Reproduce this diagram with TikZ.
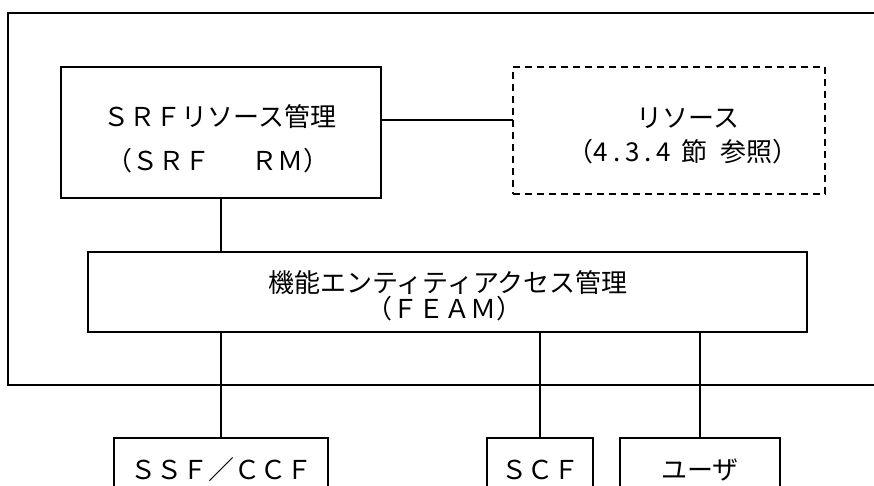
\documentclass[tikz,border=0pt]{standalone}
\usepackage{fontspec}
\setmainfont{Noto Sans CJK JP}
\newcommand{\hwc}[1]{\makebox[0.6em]{#1}}
\begin{document}
\begin{tikzpicture}[x=1pt,y=-1pt,
  box/.style={draw, line width=1.2pt, inner sep=0pt, outer sep=0pt, anchor=north west},
  dashbox/.style={box, dash pattern=on 7pt off 5pt},
  txt/.style={font=\fontsize{26}{30}\selectfont, inner sep=0pt},
  conn/.style={line width=1.2pt}]
\useasboundingbox (0,0) rectangle (874,486);
\clip (0,0) rectangle (874,486);
% outer system boundary
\node[box, line width=1.3pt, minimum width=900, minimum height=372] (sys) at (8,13) {};
% boxes
\node[box, minimum width=320, minimum height=131] (rm) at (61,67) {};
\node[dashbox, minimum width=312, minimum height=127] (res) at (513,67) {};
\node[box, minimum width=719, minimum height=80] (feam) at (88,252) {};
\node[box, minimum width=214, minimum height=80] (ssf) at (114,438) {};
\node[box, minimum width=106, minimum height=80] (scf) at (487,438) {};
\node[box, minimum width=160, minimum height=80] (user) at (620,438) {};
% texts
\node[txt] (rmt1) at (220,117) {ＳＲＦリソース管理};
\node[txt] (rmt2) at (218,161) {（ＳＲＦ　\hspace{0.6em}ＲＭ）};
\node[txt] (rest1) at (688,118) {リソース};
\node[txt] (rest2) at (683,152) {（\hwc{4}\hwc{.}\hwc{3}\hwc{.}\hwc{4}\hspace{0.4em}節\hspace{0.5em}参照）};
\node[txt] (feamt1) at (448,283) {機能エンティティアクセス管理};
\node[txt] (feamt2) at (444,309) {（ＦＥＡＭ）};
\node[txt] (ssft) at (221,470) {ＳＳＦ／ＣＣＦ};
\node[txt] (scft) at (540,470) {ＳＣＦ};
\node[txt] (usert) at (700,470) {ユーザ};
% connectors
\path ([yshift=12.5pt]rm.east) coordinate (c1);
\draw[conn] (c1) -- (c1 -| res.west);
\draw[conn] (rm.south) -- (rm.south |- feam.north);
\draw[conn] (ssf.north) -- (ssf.north |- feam.south);
\draw[conn] (scf.north) -- (scf.north |- feam.south);
\draw[conn] (user.north) -- (user.north |- feam.south);
\end{tikzpicture}
\end{document}
